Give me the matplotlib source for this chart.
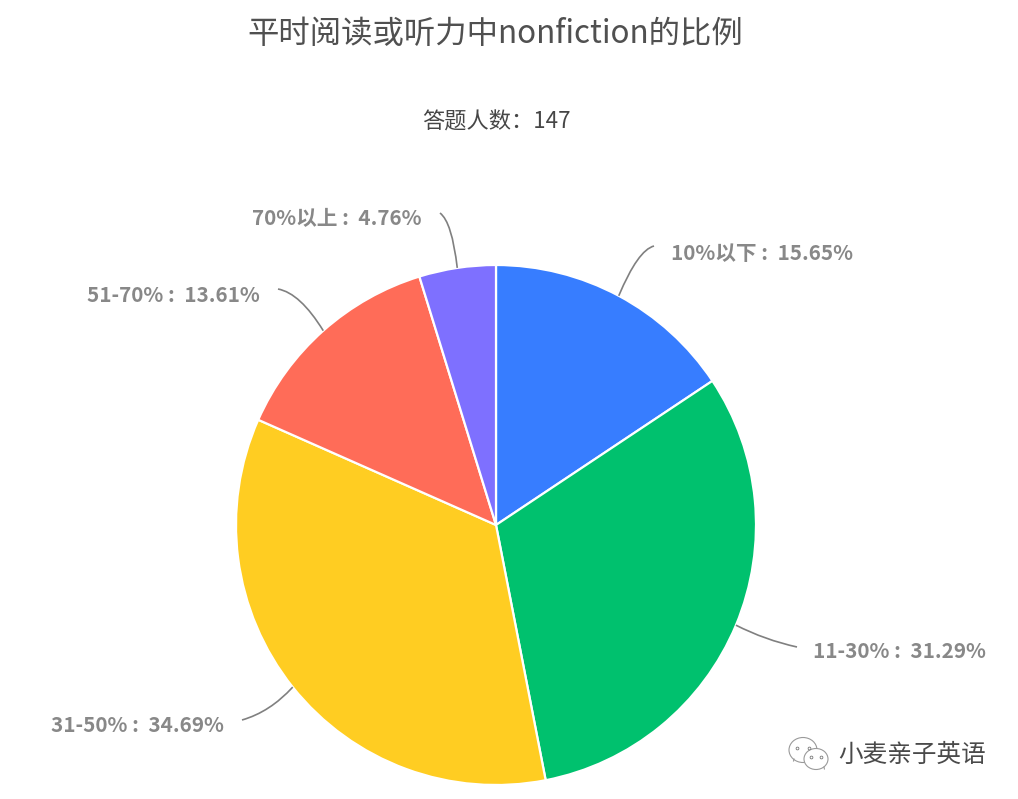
#!/usr/bin/env python
"""Pie chart: share of nonfiction in daily reading or listening."""
import matplotlib
matplotlib.use("Agg")
import matplotlib.pyplot as plt
import matplotlib.patches as mpatches
from matplotlib.path import Path
import numpy as np

plt.rcParams["font.family"] = ["Noto Sans CJK SC", "DejaVu Sans"]

categories = ["10%以下", "11-30%", "31-50%", "51-70%", "70%以上"]
shares = [15.65, 31.29, 34.69, 13.61, 4.76]
respondents = 147
title = "平时阅读或听力中nonfiction的比例"
watermark = "小麦亲子英语"

colors = ["#377DFF", "#00C16E", "#FFCD22", "#FF6C58", "#7E70FF"]

W, H = 1018, 799
CX, CY, R = 496, 525, 260

# label anchor (x, y, ha), control point and end of each leader, in image pixels
label_pos = [(671, 253, "left"), (813, 651, "left"), (224, 725, "right"),
             (260, 295, "right"), (422, 219, "right")]
leader_ctrl = [(638, 250), (765, 640), (270, 712), (300, 293), (452, 222)]
leader_end = [(654, 246), (797, 647), (242, 720), (278, 289), (440, 213)]


def flip(y):
    return H - y


def draw_leaders(ax):
    total = sum(shares)
    cum = 0.0
    for i, share in enumerate(shares):
        mid = (cum + share / 2) / total * 2 * np.pi
        cum += share
        x0 = CX + R * np.sin(mid)
        y0 = CY - R * np.cos(mid)
        verts = [(x0, flip(y0)),
                 (leader_ctrl[i][0], flip(leader_ctrl[i][1])),
                 (leader_end[i][0], flip(leader_end[i][1]))]
        path = Path(verts, [Path.MOVETO, Path.CURVE3, Path.CURVE3])
        ax.add_patch(mpatches.PathPatch(path, fill=False, edgecolor="#808080", linewidth=1.2))


def draw_wechat_icon(ax):
    for cx, cy, w, h, tail in [(803, 750, 28, 25, (-9, 11)), (816, 759, 24, 21, (8, 10))]:
        ax.add_patch(mpatches.Ellipse((cx, flip(cy)), w, h, facecolor="white",
                                      edgecolor="#9a9a9a", linewidth=0.8, zorder=3))
        ax.plot([cx + tail[0], cx + tail[0] * 1.05], [flip(cy + tail[1] - 2), flip(cy + tail[1])],
                color="#9a9a9a", linewidth=0.8, zorder=3)
        for dx in (-w * 0.2, w * 0.2):
            ax.plot(cx + dx, flip(cy - 2), "o", markersize=2, markerfacecolor="white",
                    markeredgecolor="#777777", markeredgewidth=0.6, zorder=4)


def main():
    fig = plt.figure(figsize=(W / 100, H / 100), dpi=100, facecolor="white")
    ax = fig.add_axes([0, 0, 1, 1])

    ax.pie(shares, colors=colors, startangle=90, counterclock=False,
           center=(CX, flip(CY)), radius=R, frame=True,
           wedgeprops={"edgecolor": "white", "linewidth": 1.6})
    ax.set_xlim(0, W)
    ax.set_ylim(0, H)
    ax.set_aspect("equal")
    ax.axis("off")

    draw_leaders(ax)

    ax.text(495, flip(34), title, fontsize=22.6, color="#505050", ha="center", va="center")
    ax.text(496, flip(122), f"答题人数：{respondents}", fontsize=16, color="#464646",
            ha="center", va="center")

    for cat, share, (x, y, ha) in zip(categories, shares, label_pos):
        ax.text(x, flip(y), f"{cat} :  {share:.2f}%", fontsize=14.9, fontweight="bold",
                color="#888888", ha=ha, va="center")

    draw_wechat_icon(ax)
    ax.text(838, flip(755), watermark, fontsize=17.7, color="#4a4a4a", ha="left", va="center")

    fig.savefig("out.png", dpi=100)
    plt.close(fig)


if __name__ == "__main__":
    main()
